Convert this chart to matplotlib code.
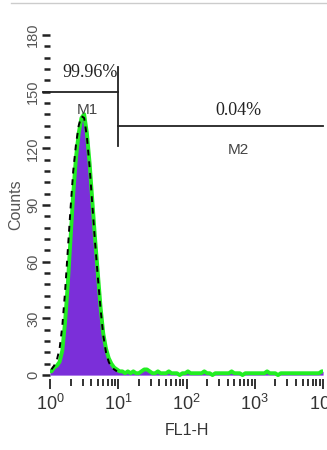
import numpy as np
import matplotlib
matplotlib.use("Agg")
import matplotlib.pyplot as plt
from matplotlib.lines import Line2D
from matplotlib import font_manager

plt.rcParams['font.family'] = ['Liberation Sans', 'DejaVu Sans']
plt.rcParams['mathtext.fontset'] = 'custom'
plt.rcParams['mathtext.rm'] = 'Liberation Sans'
plt.rcParams['mathtext.it'] = 'Liberation Sans'
plt.rcParams['mathtext.default'] = 'regular'

# ---- data ----
peak_counts = [2, 4, 5, 7, 13, 28, 48, 72, 96, 115, 128, 136, 138, 128, 112, 92, 72, 54, 36, 22, 14, 9, 6, 4, 3]
baseline_counts = [2, 2, 1, 2, 1, 2, 1, 1, 2, 3, 3, 2, 1, 1, 2,
                   1, 1, 1, 2, 1, 1, 1, 0, 1, 1, 2, 1, 1, 1, 1,
                   1, 2, 1, 1, 0, 1, 1, 1, 1, 1, 1, 2, 1, 1, 1,
                   0, 1, 1, 1, 1, 1, 1, 1, 1, 2, 1, 1, 1, 0, 1,
                   1, 1, 1, 1, 1, 1, 1, 1, 1, 1, 1, 1, 1, 1, 2]
sample_counts = peak_counts + baseline_counts
control_counts = [3, 5, 8, 14, 26, 44, 66, 88, 108, 122, 132, 137, 136, 126, 110, 90, 70, 52, 35, 21, 12, 7, 4, 3, 2]

markers = ["M1", "M2"]
marker_pct = ["99.96%", "0.04%"]
m1_range = (0.79, 10)
m2_range = (10, 10000)
m1_level = 150
m2_level = 132

y_ticks = [0, 30, 60, 90, 120, 150, 180]
x_ticks = [1, 10, 100, 1000, 10000]
x_ticklabels = ["$10^{0}$", "$10^{1}$", "$10^{2}$", "$10^{3}$", "$10^{4}$"]

serif = font_manager.FontProperties(family=['Liberation Serif', 'DejaVu Serif'], size=13)

# ---- figure ----
fig = plt.figure(figsize=(3.27, 4.5), dpi=100)
ax = fig.add_axes([0.153, 0.158, 0.835, 0.773])

n = len(sample_counts)
edges = np.logspace(0, 4, n + 1)
centers = np.sqrt(edges[:-1] * edges[1:])
xs = np.concatenate([[edges[0]], centers, [edges[-1]]])
ys = np.concatenate([[sample_counts[0]], sample_counts, [sample_counts[-1]]])

purple = '#7B2FD9'
green = '#22EE22'
ax.fill_between(xs, 0, ys, color=purple, lw=0, zorder=2)
ax.plot(xs, ys, color=green, lw=2.8, zorder=3, solid_joinstyle='round')
cx = centers[:len(control_counts)]
ax.plot(cx, control_counts, color='black', lw=1.4, ls=(0, (3, 3)), zorder=4)

ax.set_xscale('log')
ax.set_xlim(1, 10000)
ax.set_ylim(-2, 182)

for s in ax.spines.values():
    s.set_visible(False)

ax.set_xticks(x_ticks)
ax.set_xticklabels(x_ticklabels)
ax.xaxis.set_minor_locator(matplotlib.ticker.LogLocator(base=10, subs=np.arange(2, 10)))
ax.xaxis.set_minor_formatter(matplotlib.ticker.NullFormatter())
ax.tick_params(axis='x', which='major', length=7, width=1.3, color='#222222', labelsize=13, pad=4, labelcolor='#333333')
ax.tick_params(axis='x', which='minor', length=5, width=1.3, color='#222222')

ax.set_yticks(y_ticks)
ax.set_yticks(np.arange(0, 181, 6), minor=True)
ax.set_yticklabels([str(v) for v in y_ticks], rotation=90, va='center')
ax.tick_params(axis='y', which='major', length=6, width=1.8, color='#222222', labelsize=10.5, pad=1, labelcolor='#555555')
ax.tick_params(axis='y', which='minor', length=4, width=1.8, color='#222222')

ax.set_xlabel('FL1-H', fontsize=11.5, color='#333333', labelpad=6)
ax.set_ylabel('Counts', fontsize=11.5, color='#555555', labelpad=2)

# markers
ax.plot(m1_range, [m1_level, m1_level], color='#222222', lw=1.3, clip_on=False, zorder=5)
ax.plot([10, 10], [121, 163], color='#222222', lw=1.3, clip_on=False, zorder=5)
ax.plot(m2_range, [m2_level, m2_level], color='#222222', lw=1.3, clip_on=False, zorder=5)

ax.text(10 ** 0.59, 160, marker_pct[0], fontproperties=serif, ha='center', va='center', color='#222222', zorder=6)
ax.text(10 ** 0.55, 140, markers[0], fontsize=11, ha='center', va='center', color='#444444', zorder=6)
ax.text(10 ** 2.76, 140, marker_pct[1], fontproperties=serif, ha='center', va='center', color='#222222', zorder=6)
ax.text(10 ** 2.76, 119, markers[1], fontsize=11, ha='center', va='center', color='#444444', zorder=6)

# thin top rule
fig.add_artist(Line2D([0.035, 1.0], [0.993, 0.993], color='#cccccc', lw=1, transform=fig.transFigure))

fig.savefig('out.png', dpi=100)
